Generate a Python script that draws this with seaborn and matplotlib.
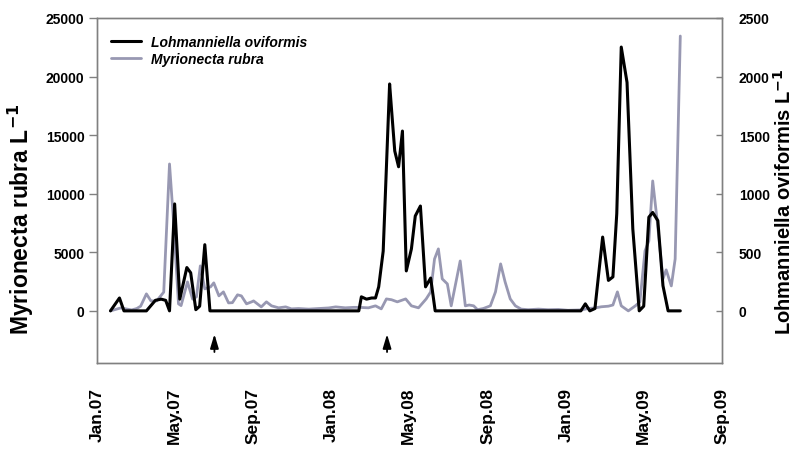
import matplotlib
matplotlib.use("Agg")
import matplotlib.pyplot as plt
import matplotlib.dates as mdates
from matplotlib.lines import Line2D
import seaborn as sns
import pandas as pd

# ---- data ----
lohman_dates = ["2007-01-22", "2007-02-05", "2007-02-12", "2007-03-19", "2007-04-02", "2007-04-11",
                "2007-04-18", "2007-04-24", "2007-05-02", "2007-05-10", "2007-05-21", "2007-05-27",
                "2007-06-04", "2007-06-10", "2007-06-18", "2007-06-26", "2008-02-13", "2008-02-17",
                "2008-02-25", "2008-03-04", "2008-03-10", "2008-03-15", "2008-03-22", "2008-04-01",
                "2008-04-04", "2008-04-09", "2008-04-15", "2008-04-21", "2008-04-27", "2008-05-05",
                "2008-05-11", "2008-05-19", "2008-05-27", "2008-06-04", "2008-06-11", "2009-01-24",
                "2009-01-31", "2009-02-07", "2009-02-15", "2009-02-27", "2009-03-08", "2009-03-15",
                "2009-03-21", "2009-03-28", "2009-04-06", "2009-04-15", "2009-04-25", "2009-05-02",
                "2009-05-10", "2009-05-16", "2009-05-24", "2009-06-01", "2009-06-09", "2009-06-28"]
lohman_values = [0, 110, 0, 0, 90, 100,
                 90, 0, 913, 100, 370, 325,
                 10, 40, 565, 0, 0, 120,
                 100, 110, 110, 205, 510, 1937,
                 1720, 1365, 1230, 1535, 341, 530,
                 810, 895, 205, 280, 0, 0,
                 60, 0, 20, 630, 260, 290,
                 830, 2252, 1950, 700, 0, 40,
                 800, 840, 770, 215, 0, 0]

myrio_dates = ["2007-01-22", "2007-02-07", "2007-02-17", "2007-02-24", "2007-03-04", "2007-03-10",
               "2007-03-19", "2007-03-26", "2007-04-04", "2007-04-15", "2007-04-24", "2007-04-30",
               "2007-05-08", "2007-05-12", "2007-05-22", "2007-05-30", "2007-06-05", "2007-06-11",
               "2007-06-18", "2007-06-27", "2007-07-02", "2007-07-10", "2007-07-17", "2007-07-25",
               "2007-07-31", "2007-08-08", "2007-08-14", "2007-08-22", "2007-08-30", "2007-09-02",
               "2007-09-14", "2007-09-22", "2007-09-30", "2007-10-11", "2007-10-22", "2007-10-31",
               "2007-11-11", "2007-11-27", "2007-12-12", "2007-12-28", "2008-01-08", "2008-01-23",
               "2008-02-05", "2008-02-13", "2008-02-28", "2008-03-10", "2008-03-19", "2008-03-27",
               "2008-04-04", "2008-04-13", "2008-04-26", "2008-05-05", "2008-05-16", "2008-05-28",
               "2008-06-04", "2008-06-10", "2008-06-16", "2008-06-22", "2008-06-30", "2008-07-06",
               "2008-07-20", "2008-07-28", "2008-08-03", "2008-08-10", "2008-08-16", "2008-08-25",
               "2008-09-05", "2008-09-13", "2008-09-21", "2008-09-28", "2008-10-06", "2008-10-14",
               "2008-10-23", "2008-11-03", "2008-11-19", "2008-12-04", "2008-12-20", "2009-01-04",
               "2009-01-25", "2009-02-04", "2009-02-15", "2009-02-25", "2009-03-08", "2009-03-15",
               "2009-03-22", "2009-03-28", "2009-04-08", "2009-04-19", "2009-04-26", "2009-05-04",
               "2009-05-10", "2009-05-16", "2009-05-23", "2009-06-01", "2009-06-06", "2009-06-14",
               "2009-06-20", "2009-06-28"]
myrio_values = [0, 250, 150, 80, 200, 400,
                1450, 850, 850, 1600, 12540, 7850,
                600, 450, 2470, 1000, 1200, 3840,
                1880, 2050, 2390, 1280, 1620, 680,
                700, 1370, 1280, 600, 770, 850,
                340, 770, 430, 260, 340, 170,
                200, 150, 200, 250, 340, 260,
                300, 300, 260, 430, 170, 1020,
                950, 770, 1020, 430, 260, 1020,
                1620, 4430, 5290, 2730, 2300, 430,
                4260, 430, 500, 430, 100, 200,
                430, 1620, 4010, 2470, 1020, 430,
                150, 100, 150, 100, 120, 50,
                80, 200, 250, 350, 400, 500,
                1620, 430, 0, 430, 770, 5120,
                5970, 11090, 7680, 2730, 3500, 2130,
                4430, 23460]

arrow_dates = ["2007-07-03", "2008-03-28"]
series_names = ["Lohmanniella oviformis", "Myrionecta rubra"]

# ---- styling ----
sns.set_style("white")
plt.rcParams["font.family"] = ["Liberation Sans", "DejaVu Sans"]
plt.rcParams["font.weight"] = "bold"
plt.rcParams["text.color"] = "black"
plt.rcParams["axes.labelcolor"] = "black"
plt.rcParams["mathtext.default"] = "bf"

black_col = "#000000"
gray_col = "#9898b2"
spine_col = "#808080"

df_l = pd.DataFrame({"date": pd.to_datetime(lohman_dates), "value": lohman_values})
df_m = pd.DataFrame({"date": pd.to_datetime(myrio_dates), "value": myrio_values})

fig = plt.figure(figsize=(7.93, 4.52), dpi=100)
ax = fig.add_axes([97 / 793, 1 - 364 / 452, (722 - 97) / 793, (364 - 19) / 452])
ax2 = ax.twinx()

sns.lineplot(data=df_m, x="date", y="value", ax=ax, color=gray_col, linewidth=2.0)
sns.lineplot(data=df_l, x="date", y="value", ax=ax2, color=black_col, linewidth=2.2)

ax.set_xlim(pd.Timestamp("2007-01-01"), pd.Timestamp("2009-09-01"))
ax.set_ylim(-4450, 25000)
ax2.set_ylim(-445, 2500)
ax.set_yticks([0, 5000, 10000, 15000, 20000, 25000])
ax2.set_yticks([0, 500, 1000, 1500, 2000, 2500])

ax.xaxis.set_major_locator(mdates.MonthLocator(bymonth=[1, 5, 9]))
ax.xaxis.set_minor_locator(mdates.MonthLocator())
ax.xaxis.set_major_formatter(mdates.DateFormatter("%b.%y"))
for lab in ax.get_xticklabels():
    lab.set_rotation(90)

for a in (ax, ax2):
    for s in a.spines.values():
        s.set_color(spine_col)
        s.set_linewidth(1.0)

ax.tick_params(axis="y", which="major", direction="out", length=6, width=1, color=spine_col,
               labelcolor="black", labelsize=10, pad=3)
ax.tick_params(axis="x", which="major", direction="out", length=6, width=1, color=spine_col,
               labelcolor="black", labelsize=12.5, pad=11)
ax.tick_params(axis="x", which="minor", direction="out", length=4, width=1, color=spine_col)
ax2.tick_params(axis="y", direction="in", length=4, width=1, color=spine_col,
                labelcolor="black", labelsize=10, pad=12)
for lab in ax.get_xticklabels() + ax.get_yticklabels() + ax2.get_yticklabels():
    lab.set_fontweight("bold")

ax.set_xlabel("")
ax.set_ylabel("Myrionecta rubra L$^{-1}$", fontsize=16.5, fontweight="bold")
ax.yaxis.set_label_coords(-0.097, 0.42)
ax2.set_ylabel("Lohmanniella oviformis L$^{-1}$", fontsize=14.5, fontweight="bold")
ax2.yaxis.set_label_coords(1.081, 0.47)

for d in arrow_dates:
    ax.annotate("", xy=(pd.Timestamp(d), -1750), xytext=(pd.Timestamp(d), -3750),
                arrowprops=dict(arrowstyle="-|>,head_length=0.6,head_width=0.18", color="black",
                                lw=1.3, mutation_scale=14),
                annotation_clip=False)

handles = [Line2D([0], [0], color=black_col, lw=2.2), Line2D([0], [0], color=gray_col, lw=2.0)]
leg = ax.legend(handles, series_names, loc="upper left", frameon=False,
                prop={"size": 10, "weight": "bold", "style": "italic"},
                handlelength=2.2, handletextpad=0.7, borderaxespad=0.6, labelspacing=0.2,
                bbox_to_anchor=(0.0, 0.99))

fig.savefig("out.png", dpi=100)
